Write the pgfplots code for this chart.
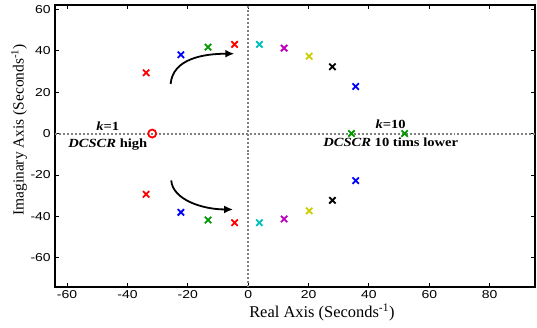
\documentclass[border=0pt]{standalone}
\usepackage{pgfplots}
\pgfplotsset{compat=1.18}
\usepackage{fontspec}
\setmainfont{Liberation Serif}
\setsansfont{Liberation Sans}
\usetikzlibrary{arrows.meta}
\definecolor{mred}{rgb}{1,0,0}
\definecolor{mblue}{rgb}{0,0,1}
\definecolor{mgreen}{rgb}{0,0.6,0}
\definecolor{mcyan}{rgb}{0,0.75,0.75}
\definecolor{mmag}{rgb}{0.75,0,0.75}
\definecolor{myel}{rgb}{0.8,0.8,0}
\begin{document}
\begin{tikzpicture}[x=1bp,y=1bp]
\begin{axis}[
  name=ax,
  scale only axis,
  width=480bp, height=282bp,
  xmin=-64, xmax=95, ymin=-74, ymax=62,
  xtick={-60,-40,...,80}, ytick={-60,-40,...,60},
  tick align=inside, major tick length=4bp,
  tick style={black, line width=1pt},
  axis line style={line width=1.6pt},
  ticklabel style={font=\sffamily\fontsize{11.5}{13}\selectfont, xscale=1.22},
  /pgf/number format/assume math mode=true,
  xlabel={Real Axis (Seconds\textsuperscript{-1})},
  ylabel={Imaginary Axis (Seconds\textsuperscript{-1})},
  xlabel style={font=\fontsize{16.5}{18}\selectfont, at={(ticklabel cs:0.556)}, yshift=2bp},
  ylabel style={font=\fontsize{15.5}{17}\selectfont, at={(ticklabel cs:0.557)}, yshift=-4bp},
  clip=false,
]
\addplot[gray, dotted, line width=2pt, forget plot] coordinates {(-64,0) (95,0)};
\addplot[gray, dotted, line width=2pt, forget plot] coordinates {(0,-74) (0,62)};
% poles
\addplot[only marks, mark=x, mark size=4.5bp, line width=1.8pt, mred] coordinates {(-33.8,29.3) (-33.8,-29.3) (-4.5,43) (-4.5,-43)};
\addplot[only marks, mark=x, mark size=4.5bp, line width=1.8pt, mblue] coordinates {(-22.3,38) (-22.3,-38) (35.6,22.7) (35.6,-22.7)};
\addplot[only marks, mark=x, mark size=4.5bp, line width=1.8pt, mgreen] coordinates {(-13.3,41.7) (-13.3,-41.7) (34.2,0) (51.8,0)};
\addplot[only marks, mark=x, mark size=4.5bp, line width=1.8pt, mcyan] coordinates {(3.7,43) (3.7,-43)};
\addplot[only marks, mark=x, mark size=4.5bp, line width=1.8pt, mmag] coordinates {(11.9,41.2) (11.9,-41.2)};
\addplot[only marks, mark=x, mark size=4.5bp, line width=1.8pt, myel] coordinates {(20.2,37.3) (20.2,-37.3)};
\addplot[only marks, mark=x, mark size=4.5bp, line width=1.8pt, black] coordinates {(27.9,32.2) (27.9,-32.2)};
\addplot[only marks, mark=o, mark size=4bp, line width=1.8pt, mred] coordinates {(-31.8,0)};
% arrows
\draw[-{Latex[length=9bp,width=8bp]}, line width=1.8pt] (axis cs:-25.7,23.9) .. controls (axis cs:-25,36) and (axis cs:-15,38.5) .. (axis cs:-4.6,38.5);
\draw[-{Latex[length=9bp,width=8bp]}, line width=1.8pt] (axis cs:-25.5,-22.6) .. controls (axis cs:-25,-32) and (axis cs:-15,-36.6) .. (axis cs:-5,-36.6);
% annotations
\tikzset{ann/.style={font=\bfseries\fontsize{12.5}{14}\selectfont, xscale=1.17, inner sep=0pt}}
\node[ann] at (axis cs:-46.5,3.4) {\textit{k}=1};
\node[ann] at (axis cs:-46.5,-5.5) {\textit{DCSCR} high};
\node[ann] at (axis cs:47.2,4.3) {\textit{k}=10};
\node[ann] at (axis cs:47.2,-4.1) {\textit{DCSCR} 10 tims lower};
\end{axis}
\pgfresetboundingbox
\path ([shift={(-55bp,-41bp)}]ax.south west) rectangle ([shift={(2bp,5bp)}]ax.north east);
\end{tikzpicture}
\end{document}
